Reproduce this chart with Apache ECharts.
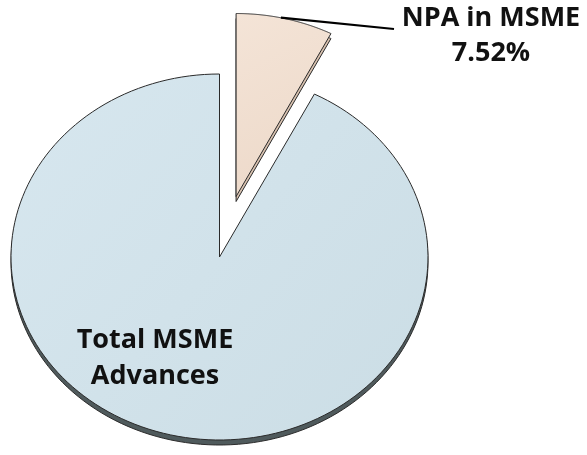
<!DOCTYPE html>
<html>
<head>
<meta charset="utf-8">
<script src="https://cdn.jsdelivr.net/npm/echarts@6/dist/echarts.min.js"></script>
<style>html,body{margin:0;padding:0;background:#fff;}#c{width:587px;height:455px;}</style>
</head>
<body>
<div id="c"></div>
<script>
// ---- data ----
const categories = ['NPA in MSME', 'Total MSME Advances'];
const values = [7.52, 92.48];
const labelLines = [['NPA in MSME', '7.52%'], ['Total MSME', 'Advances']];

// ---- style / layout constants ----
const fills = [['#f4e4d7', '#ecd8c8'], ['#d7e7ef', '#cbdde5']];
const sideColors = ['#d9c2b0', '#4f5a5c'];
const explodeIndex = 0;
const explodeDist = 0.34;   // in radius units
const depthPx = 5;
const FONT = '"Open Sans", Lato, sans-serif';

const total = values.reduce((a, b) => a + b, 0);
const chart = echarts.init(document.getElementById('c'));

function renderItem(params, api) {
  const i = params.dataIndex;
  let before = 0;
  for (let k = 0; k < i; k++) before += values[k];
  const a0 = before / total * Math.PI * 2;
  const a1 = (before + values[i]) / total * Math.PI * 2;
  const mid = (a0 + a1) / 2;
  const d = i === explodeIndex ? explodeDist : 0;
  const ox = d * Math.sin(mid), oy = d * Math.cos(mid);
  const pts = [api.coord([ox, oy])];
  const n = 160;
  for (let s = 0; s <= n; s++) {
    const a = a0 + (a1 - a0) * s / n;
    pts.push(api.coord([ox + Math.sin(a), oy + Math.cos(a)]));
  }
  const side = pts.map(p => [p[0], p[1] + depthPx]);
  const children = [
    { type: 'polygon', shape: { points: side },
      style: { fill: sideColors[i], stroke: '#2a2a2a', lineWidth: 1 } },
    { type: 'polygon', shape: { points: pts },
      style: {
        fill: new echarts.graphic.LinearGradient(0, 0, 1, 1, [
          { offset: 0, color: fills[i][0] }, { offset: 1, color: fills[i][1] }]),
        stroke: '#2a2a2a', lineWidth: 1 } }
  ];
  if (i === explodeIndex) {
    const arcMid = api.coord([ox + Math.sin(mid), oy + Math.cos(mid)]);
    children.push({ type: 'polyline', shape: { points: [[arcMid[0] - 4, arcMid[1] - 1], [394, 29]] },
      style: { stroke: '#000', lineWidth: 2.2, fill: null } });
    children.push({ type: 'text', x: 491, y: 36,
      style: { text: labelLines[i].join('\n'), font: 'bold 27px ' + FONT, fill: '#111',
        align: 'center', verticalAlign: 'middle', lineHeight: 35 } });
  } else {
    children.push({ type: 'text', x: 155, y: 358,
      style: { text: labelLines[i].join('\n'), font: 'bold 27px ' + FONT, fill: '#111',
        align: 'center', verticalAlign: 'middle', lineHeight: 36 } });
  }
  return { type: 'group', children: children };
}

chart.setOption({
  animation: false,
  grid: { left: 11, right: 159, top: 74, bottom: 15 },
  xAxis: { type: 'value', min: -1, max: 1, show: false },
  yAxis: { type: 'value', min: -1, max: 1, show: false },
  series: [{
    type: 'custom',
    name: 'MSME',
    renderItem: renderItem,
    data: values.map((v, k) => ({ name: categories[k], value: [0, 0, v] })),
    encode: { x: 0, y: 1 },
    clip: false
  }]
});
</script>
</body>
</html>
